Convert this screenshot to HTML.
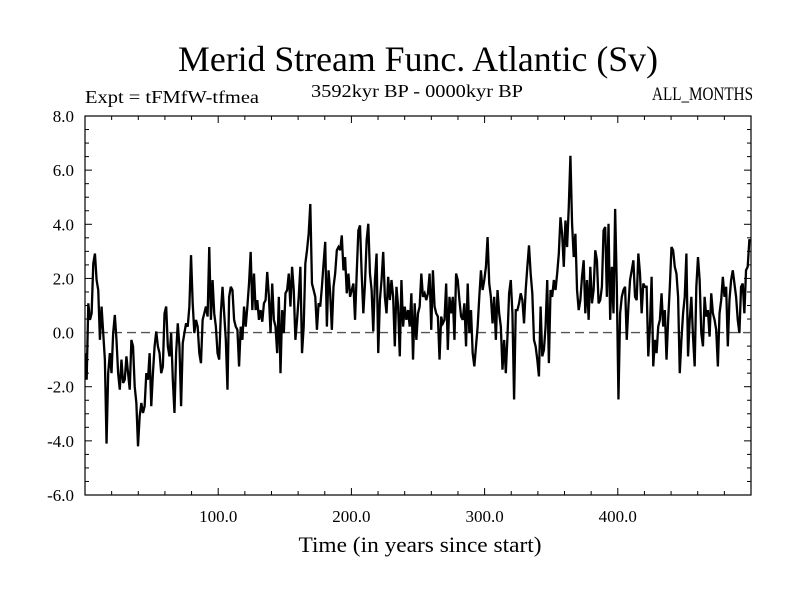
<!DOCTYPE html>
<html><head><meta charset="utf-8"><title>Merid Stream Func. Atlantic</title>
<style>html,body{margin:0;padding:0;background:#fff}svg{display:block}</style></head>
<body>
<svg id="chart" width="800" height="600" xmlns="http://www.w3.org/2000/svg" font-family="'Liberation Serif', serif">
<rect x="0" y="0" width="800" height="600" fill="#fff"/>
<text x="178" y="71" font-size="36" textLength="480" lengthAdjust="spacingAndGlyphs">Merid Stream Func. Atlantic (Sv)</text>
<text x="85" y="103" font-size="18" textLength="174" lengthAdjust="spacingAndGlyphs">Expt = tFMfW-tfmea</text>
<text x="311" y="97" font-size="18" textLength="212" lengthAdjust="spacingAndGlyphs">3592kyr BP - 0000kyr BP</text>
<text x="753" y="100" font-size="19" text-anchor="end" textLength="101" lengthAdjust="spacingAndGlyphs">ALL_MONTHS</text>
<text x="420" y="552" font-size="22" text-anchor="middle" textLength="243" lengthAdjust="spacingAndGlyphs">Time (in years since start)</text>
<g id="axes"></g>
<g id="plot"></g>
</svg>
<script>
const xTickValues = [100, 200, 300, 400];
const xTickLabels = ["100.0", "200.0", "300.0", "400.0"];
const yTickValues = [8, 6, 4, 2, 0, -2, -4, -6];
const yTickLabels = ["8.0", "6.0", "4.0", "2.0", "0.0", "-2.0", "-4.0", "-6.0"];
const startYear = 0;
const endYear = 500;
const seriesValues = [
-0.76,-1.74,1.08,0.47,0.71,2.55,2.92,1.94,1.57,-0.27,0.96,-0.02,-1.0,-4.1,-1.5,-0.76,-1.5,-0.02,0.65,-0.27,-1.5,-2.11,-1.0,-1.86,-1.74,-0.88,-1.5,-2.11,-0.27,-0.51,-1.99,-2.6,-4.2,-3.09,-2.6,-2.97,-2.72,-1.5,-1.74,-0.76,-2.72,-1.5,-0.51,0.04,-0.51,-0.76,-1.5,-1.25,0.71,0.96,-0.51,-0.88,-0.02,-1.74,-2.97,-0.76,0.34,-0.51,-2.72,-0.39,-0.02,0.34,0.22,0.96,2.86,1.08,-0.02,0.47,0.22,-0.76,-1.13,0.47,0.71,0.96,0.59,3.16,0.47,1.94,0.71,0.22,-0.76,-1.0,0.71,1.69,0.71,-0.27,-2.11,1.32,1.69,1.57,0.47,0.22,0.1,-1.25,0.22,-0.27,0.96,0.22,0.96,1.81,2.98,0.83,
2.18,0.83,1.2,0.47,0.83,0.4,1.08,1.2,2.24,1.32,-0.02,1.81,0.47,0.22,-0.76,1.32,-1.5,0.83,-0.02,1.45,1.57,2.18,0.96,2.43,1.57,-0.27,0.47,1.32,2.43,-0.76,0.22,2.55,3.04,3.65,4.75,1.81,1.57,1.32,0.1,1.08,0.96,1.69,2.55,3.35,0.22,2.3,1.45,0.1,1.69,2.18,3.04,3.16,3.04,3.59,2.3,2.79,1.45,2.18,1.32,1.57,1.81,0.47,2.18,3.77,3.96,2.18,0.71,1.81,3.41,4.02,2.18,1.57,0.04,1.94,2.92,-0.76,1.2,1.94,2.98,1.32,0.71,2.06,1.2,1.94,1.32,-0.51,1.69,0.96,-0.88,1.94,0.22,0.96,0.47,0.83,0.22,1.45,-1.0,1.08,-0.27,0.71,
0.96,2.18,1.32,1.45,1.2,1.45,2.18,0.1,2.3,0.96,0.71,0.59,-1.0,0.59,0.34,0.47,1.81,-0.64,1.32,0.71,1.32,-0.27,2.18,1.94,1.2,0.59,0.47,1.08,-0.51,1.81,-0.02,0.83,-0.76,-1.25,-0.51,0.22,1.32,2.3,1.57,1.94,2.43,3.53,1.81,1.32,0.34,1.32,-0.27,1.57,0.71,0.22,-1.37,-0.27,-1.5,-0.15,1.45,1.94,0.71,-2.47,0.83,0.83,1.08,1.45,1.2,0.34,1.57,2.43,3.22,2.18,1.45,-0.27,-0.51,-1.0,-1.62,0.96,-0.88,-0.64,0.22,1.94,-1.13,1.57,1.32,1.94,1.57,2.18,2.92,4.26,3.65,2.43,4.14,3.16,4.63,6.53,4.02,2.79,3.65,1.57,0.83,1.2,2.06,2.67,
0.71,1.94,0.47,2.43,1.08,1.57,3.04,2.67,1.08,1.2,1.69,3.77,3.9,1.32,4.02,0.47,2.43,0.71,4.57,1.69,-2.47,0.71,1.32,1.57,1.69,-0.27,0.96,1.94,2.3,2.67,1.32,1.2,2.92,2.18,0.71,1.81,1.69,1.69,-0.88,0.22,2.06,-1.25,-0.27,-0.76,0.22,0.47,1.45,0.22,0.83,-1.0,0.47,1.69,3.16,3.04,2.43,2.18,1.32,-1.5,-0.27,0.71,1.32,2.92,-0.88,0.47,1.32,-0.15,-1.25,1.69,2.79,1.94,-0.02,-0.51,1.32,0.59,0.83,-0.15,1.45,0.71,0.47,0.1,-1.25,0.71,1.2,2.06,1.32,1.69,-0.51,1.2,1.94,2.3,1.81,1.32,0.47,-0.02,1.69,1.81,0.71,2.3,2.43,3.41,3.41
];

const L = 85, R = 751, T = 116, B = 495;
const xMin = 0, xMax = 500, yMin = -6, yMax = 8;
function xScale(v){ return L + (v - xMin) / (xMax - xMin) * (R - L); }
function yScale(v){ return B - (v - yMin) / (yMax - yMin) * (B - T); }
const NS = "http://www.w3.org/2000/svg";
const axes = document.getElementById('axes');
const plot = document.getElementById('plot');
function mk(tag, attrs, parent){
  const e = document.createElementNS(NS, tag);
  for (const k in attrs) e.setAttribute(k, attrs[k]);
  parent.appendChild(e);
  return e;
}

const defs = mk('defs', {}, axes);
const cp = mk('clipPath', {id: 'clip'}, defs);
mk('rect', {x: L, y: T, width: R - L, height: B - T}, cp);

const frame = mk('rect', {x: L, y: T, width: R - L, height: B - T, fill: 'none', stroke: '#000', 'stroke-width': 1.2}, axes);



for (let v = 20; v < xMax; v += 20) {
  const major = v % 100 === 0;
  const len = major ? 7 : 4;
  const x = xScale(v);
  const tb = mk('line', {x1: x, x2: x, y1: B, y2: B - len, stroke: '#000', 'stroke-width': 1}, axes);
  
  
  const tt = mk('line', {x1: x, x2: x, y1: T, y2: T + len, stroke: '#000', 'stroke-width': 1}, axes);
  
  
}
xTickValues.forEach((v, i) => {
  const t = mk('text', {x: xScale(v), y: 522, 'font-size': 17, 'text-anchor': 'middle'}, axes);
  
  
  t.textContent = xTickLabels[i];
});

for (let v = yMin + 0.5; v < yMax; v += 0.5) {
  const major = Math.abs(v % 2) < 1e-9;
  const len = major ? 7 : 4;
  const y = yScale(v);
  const tl = mk('line', {x1: L, x2: L + len, y1: y, y2: y, stroke: '#000', 'stroke-width': 1}, axes);
  
  
  const tr = mk('line', {x1: R, x2: R - len, y1: y, y2: y, stroke: '#000', 'stroke-width': 1}, axes);
  
  
}
yTickValues.forEach((v, i) => {
  const t = mk('text', {x: 74, y: yScale(v) + 6, 'font-size': 17, 'text-anchor': 'end'}, axes);
  
  
  t.textContent = yTickLabels[i];
});

const zl = mk('line', {x1: L, x2: R, y1: yScale(0), y2: yScale(0), stroke: '#555', 'stroke-width': 1.3, 'stroke-dasharray': '9 5'}, plot);



const n = seriesValues.length;
const step = (endYear - startYear) / (n - 1);
let d = '';
seriesValues.forEach((v, i) => {
  const yr = startYear + i * step;
  d += (i ? 'L' : 'M') + xScale(yr).toFixed(2) + ' ' + yScale(v).toFixed(2);
});
const line = mk('path', {d: d, fill: 'none', stroke: '#000', 'stroke-width': 2.3, 'stroke-linejoin': 'miter', 'stroke-miterlimit': 3, 'clip-path': 'url(#clip)'}, plot);


</script>
</body></html>
